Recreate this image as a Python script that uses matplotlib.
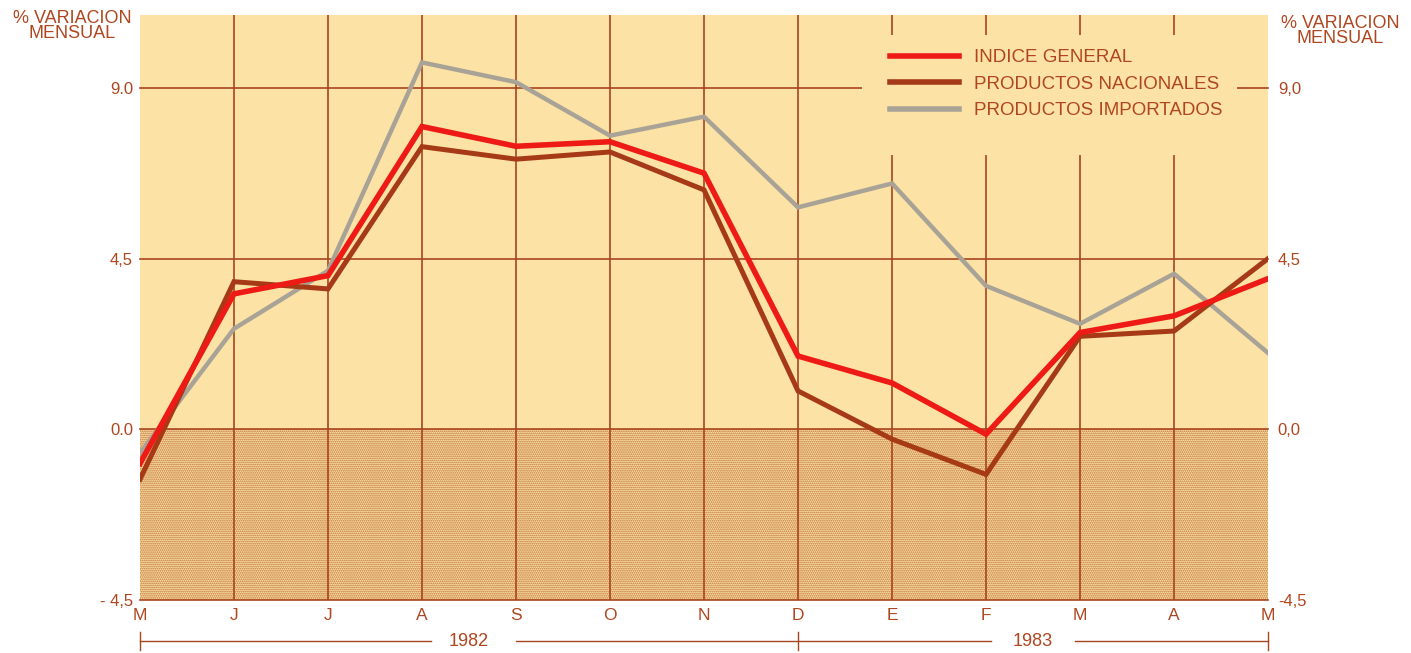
import matplotlib.pyplot as plt
from matplotlib import transforms
from matplotlib.lines import Line2D
from matplotlib.patches import Rectangle

plt.rcParams['font.family'] = ['Liberation Sans', 'DejaVu Sans']
plt.rcParams['hatch.linewidth'] = 0.85

# datos (variacion mensual, %)
months = ['M', 'J', 'J', 'A', 'S', 'O', 'N', 'D', 'E', 'F', 'M', 'A', 'M']
indice_general = [-0.90, 3.57, 4.05, 7.98, 7.46, 7.58, 6.75, 1.93, 1.22, -0.13, 2.55, 2.99, 3.97]
productos_nacionales = [-1.32, 3.89, 3.70, 7.45, 7.12, 7.31, 6.31, 1.01, -0.26, -1.19, 2.45, 2.59, 4.50]
productos_importados = [-0.63, 2.65, 4.18, 9.67, 9.15, 7.74, 8.24, 5.85, 6.48, 3.78, 2.78, 4.10, 2.01]
series_names = ['INDICE GENERAL', 'PRODUCTOS NACIONALES', 'PRODUCTOS IMPORTADOS']

yticks = [-4.5, 0.0, 4.5, 9.0]
ylabels_left = ['- 4,5', '0.0', '4,5', '9.0']
ylabels_right = ['-4,5', '0,0', '4,5', '9,0']
years = ['1982', '1983']
year_pos = [3.5, 9.5]
year_segments = [(0, 3.1), (4.0, 9.05), (9.95, 12)]
year_ticks = [0, 7, 12]

yellow = '#FCE3A5'
grid_col = '#A8441F'
text_col = '#B0461F'
red = '#EE1A16'
brown = '#A63A16'
grey = '#A9A397'

fig = plt.figure(figsize=(14.11, 6.53), dpi=100)
ax = fig.add_axes([0.0992, 0.0812, 0.7995, 0.8958])
ax.set_facecolor(yellow)
ax.set_xlim(0, 12)
ax.set_ylim(-4.5, 10.92)
for s in ax.spines.values():
    s.set_visible(False)

# zona negativa punteada
ax.axhspan(-4.5, 0, facecolor=yellow, edgecolor='#BC6A36', hatch='.' * 8, lw=0, zorder=0.5)

# rejilla
for i in range(1, len(months) - 1):
    ax.axvline(i, color=grid_col, lw=1.2, zorder=1)
for y in yticks:
    ax.axhline(y, color=grid_col, lw=1.2, zorder=1, clip_on=False)

# caja de la leyenda tapa la rejilla
ax.add_patch(Rectangle((0.640, 0.761), 0.3325, 0.205, transform=ax.transAxes,
                       facecolor=yellow, edgecolor='none', zorder=1.5))

x = list(range(len(months)))
ax.plot(x, productos_importados, color=grey, lw=3.2, zorder=3, solid_joinstyle='miter')
ax.plot(x, productos_nacionales, color=brown, lw=3.6, zorder=4, solid_joinstyle='miter')
ax.plot(x, indice_general, color=red, lw=4.0, zorder=5, solid_joinstyle='miter')

handles = [Line2D([], [], color=red, lw=4.0),
           Line2D([], [], color=brown, lw=4.0),
           Line2D([], [], color=grey, lw=4.0)]
ax.legend(handles, series_names, loc='upper left', bbox_to_anchor=(890 / 1411, 1 - 49 / 653),
          bbox_transform=fig.transFigure, frameon=False, fontsize=13.5, borderpad=0,
          borderaxespad=0, handlelength=3.7, handletextpad=0.8, labelspacing=0.5,
          labelcolor=text_col)

# ejes
ax.set_xticks(x, months)
ax.set_yticks(yticks, ylabels_left)
ax.tick_params(axis='x', length=0, pad=6, labelsize=12.5, labelcolor=text_col)
ax.tick_params(axis='y', length=0, pad=5, labelsize=12, labelcolor=text_col)

ax2 = ax.twinx()
ax2.set_ylim(ax.get_ylim())
ax2.set_yticks(yticks, ylabels_right)
ax2.tick_params(axis='y', length=0, pad=7, labelsize=12, labelcolor=text_col)
for s in ax2.spines.values():
    s.set_visible(False)

fig.text(72 / 1411, 1 - 26 / 653, '% VARIACION\nMENSUAL', ha='center', va='center',
         ma='center', fontsize=13, color=text_col, linespacing=0.85)
fig.text(1340 / 1411, 1 - 31 / 653, '% VARIACION\nMENSUAL', ha='center', va='center',
         ma='center', fontsize=13, color=text_col, linespacing=0.85)

# eje de años
tr = transforms.blended_transform_factory(ax.transData, fig.transFigure)
yl = 1 - 641 / 653
for a, b in year_segments:
    ax.plot([a, b], [yl, yl], color=grid_col, lw=1.0, transform=tr, clip_on=False)
for t in year_ticks:
    ax.plot([t, t], [yl - 0.014, yl + 0.014], color=grid_col, lw=1.0, transform=tr, clip_on=False)
for yr, p in zip(years, year_pos):
    ax.text(p, yl, yr, transform=tr, ha='center', va='center', fontsize=13, color=text_col)

fig.savefig('out.png', dpi=100)
